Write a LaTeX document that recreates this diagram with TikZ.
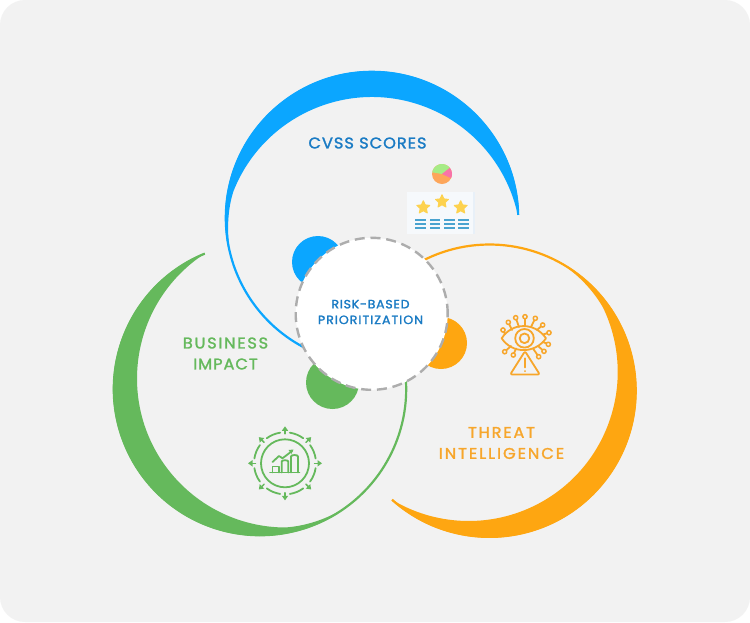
\documentclass[tikz,border=0pt]{standalone}
\usepackage{fontspec}
\usetikzlibrary{shapes.geometric}
\setmainfont{Poppins}
\newfontfamily\labfont[LetterSpace=6,FakeBold=1.6,FakeStretch=1.05]{Poppins}
\newcommand{\ls}[2]{{\addfontfeature{LetterSpace=#1}#2}}
\definecolor{bg}{HTML}{F2F2F2}
\definecolor{cblue}{HTML}{0BA6FF}
\definecolor{cgreen}{HTML}{65B95C}
\definecolor{corange}{HTML}{FEA611}
\definecolor{tblue}{HTML}{1A7BC4}
\definecolor{torange}{HTML}{F7A62B}
\definecolor{dashgray}{HTML}{ADADAD}
\definecolor{gold}{HTML}{FDD24F}
\definecolor{barblue}{HTML}{49A3D0}
\definecolor{pieorange}{HTML}{FDA65A}
\definecolor{piegreen}{HTML}{A6EC86}
\definecolor{piepink}{HTML}{F873A8}
\definecolor{cardface}{HTML}{F6F9FC}
\definecolor{cardedge}{HTML}{E8F0F8}
\tikzset{
  bigtext/.style={font=\labfont\fontsize{15.5}{21}\selectfont,align=center,inner sep=0pt},
  smalltext/.style={font=\labfont\fontsize{12}{15.7}\selectfont,align=center,inner sep=0pt,text=tblue},
  ratingstar/.style={star,star points=5,star point ratio=2.1,minimum size=13.5pt,inner sep=0pt,fill=gold,draw=gold,line width=1pt,line join=round},
  iconline/.style={line width=1.8pt,line cap=round,line join=round}
}
% #1 outer cx, #2 outer cy, #3 inner cx, #4 inner cy, #5 rotation, #6 colour, #7 thin line end angle
\newcommand{\crescent}[7]{%
  \pgfmathsetmacro{\aA}{1.2+#5}\pgfmathsetmacro{\aB}{191.2+#5}%
  \pgfmathsetmacro{\aE}{184+#5}\pgfmathsetmacro{\aF}{165+#5}%
  \pgfmathsetmacro{\aC}{158.34+#5}\pgfmathsetmacro{\aD}{12+#5}%
  \fill[#6] ([shift={(#1,#2)}]\aA:147pt) arc[start angle=\aA,end angle=\aB,radius=147pt]
    -- ([shift={(#1,#2)}]\aB:145.5pt)
    .. controls ([shift={(#1,#2)}]\aE:145.5pt) and ([shift={(#3,#4)}]\aF:149pt) .. ([shift={(#3,#4)}]\aC:149pt)
    arc[start angle=\aC,end angle=\aD,radius=149pt] -- cycle;
  \draw[#6,line width=2.2pt] ([shift={(#1,#2)}]\aA:146.2pt) arc[start angle=\aA,end angle=#7,radius=146.2pt];
}
\begin{document}
\begin{tikzpicture}[x=1pt,y=-1pt]
\useasboundingbox (0,0) rectangle (750,622);
\fill[white] (0,0) rectangle (750,622);
\fill[bg,rounded corners=25pt] (0,0) rectangle (750,622);

% small discs
\fill[cblue] (318,262) circle[radius=26pt];
\fill[corange] (441,343) circle[radius=26pt];
\fill[cgreen] (332.5,382.5) circle[radius=26.5pt];

% crescents
\crescent{372}{218}{372}{246}{0}{cblue}{244}
\crescent{260}{389}{286}{378.5}{111}{cgreen}{365}
\crescent{489.5}{390.7}{468.7}{372}{227}{corange}{480}

% centre
\node[circle,fill=white,draw=dashgray,line width=2.4pt,dash pattern=on 10pt off 5.8pt,minimum size=152pt,inner sep=0pt] (centre) at (371.7,313.8) {};
\node[smalltext] (risk) at (370.5,312) {RISK-BASED\\\ls{8}{PRIORITIZATION}};

% labels
\node[bigtext,text=tblue] (cvss) at (367.5,143) {CVSS SCORES};
\node[bigtext,text=cgreen] (business) at (225.5,353.5) {\ls{11}{BUSINESS}\\IMPACT};
\node[bigtext,text=torange] (threat) at (501.5,443) {\ls{11.4}{THREAT}\\\ls{12.5}{INTELLIGENCE}};

% pie
\fill[pieorange] (442,174) circle[radius=10pt];
\fill[piegreen] (442,174) -- ++(170:10pt) arc[start angle=170,end angle=38,radius=10pt] -- cycle;
\fill[piepink] (442,174) -- ++(38:10pt) arc[start angle=38,end angle=-25,radius=10pt] -- cycle;

% rating card
\fill[cardface] (406.7,191.7) rectangle (475,233.5);
\fill[cardedge] (472.5,191.7) rectangle (475,233.5);
\node[ratingstar] (s1) at (423.3,207.5) {};
\node[ratingstar] (s2) at (442,201.5) {};
\node[ratingstar] (s3) at (460.7,207.5) {};
\foreach \xa in {415.3,429.6,444,458}
  \foreach \ya in {219.7,223.6,227.6}
    \fill[barblue] (\xa,\ya-1) rectangle (\xa+10.6,\ya+1);

% eye icon
\begin{scope}[draw=torange,iconline]
  \foreach \xa/\ya/\xb/\yb in {505/334/503/330,512/330/508.3/322.3,519/327/515.7/317.7,525/326/525/316.7,531/327/535.3/318.3,537/330/542.7/325,543/334.5/549/332.7,543/342/548.3/344.3,538/346/544/351.3,533/348.5/538.7/356.7,516/348.5/513.3/355,511/346/504.7/351.7}
  {\draw (\xa,\ya) -- (\xb,\yb);
   \filldraw[fill=bg,line width=1.5pt] (\xb,\yb) circle[radius=2.1pt];}
  \draw (501.7,338.3) .. controls (512,322) and (535,322) .. (546,338.3)
        .. controls (535,354) and (512,354) .. cycle;
  \draw (524.5,338.3) circle[radius=9.3pt];
  \draw (524.5,338.3) circle[radius=4.8pt];
  \filldraw[fill=bg,rounded corners=2pt] (525,351.2) -- (539.8,374.5) -- (510.2,374.5) -- cycle;
  \draw (525,358.3) -- (525,367.5);
  \draw (525,371) -- (525,371.2);
\end{scope}

% growth icon
\begin{scope}[draw=cgreen,iconline]
  \coordinate (g) at (285,463.3);
  \draw (g) circle[radius=24pt];
  \foreach \a in {0,45,...,315}{
    \pgfmathsetmacro{\sa}{\a+9}\pgfmathsetmacro{\ea}{\a+36}
    \draw ([shift={(g)}]\sa:31pt) arc[start angle=\sa,end angle=\ea,radius=31pt];
    \draw[line width=1.5pt] ([shift={(g)}]\a:29.5pt) -- ([shift={(g)}]\a:33pt);
    \fill[cgreen,shift={(g)},rotate=\a] (37pt,0pt) -- (32.5pt,3.2pt) -- (32.5pt,-3.2pt) -- cycle;
  }
  \draw (270,472.5) -- (299.5,472.5);
  \draw (272.5,472.5) -- (272.5,466.5) -- (279,466.5) -- (279,472.5);
  \draw (281.7,472.5) -- (281.7,461.5) .. controls (281.7,459.8) and (288.3,459.8) .. (288.3,461.5) -- (288.3,472.5);
  \draw (291,472.5) -- (291,456.5) .. controls (291,454.5) and (298,454.5) .. (298,456.5) -- (298,472.5);
  \draw (272.5,462) -- (279,456) -- (282.5,458.3) -- (292,451);
  \fill[cgreen] (293.5,449.5) -- (288.5,450) -- (291.5,453.8) -- cycle;
\end{scope}
\end{tikzpicture}
\end{document}
